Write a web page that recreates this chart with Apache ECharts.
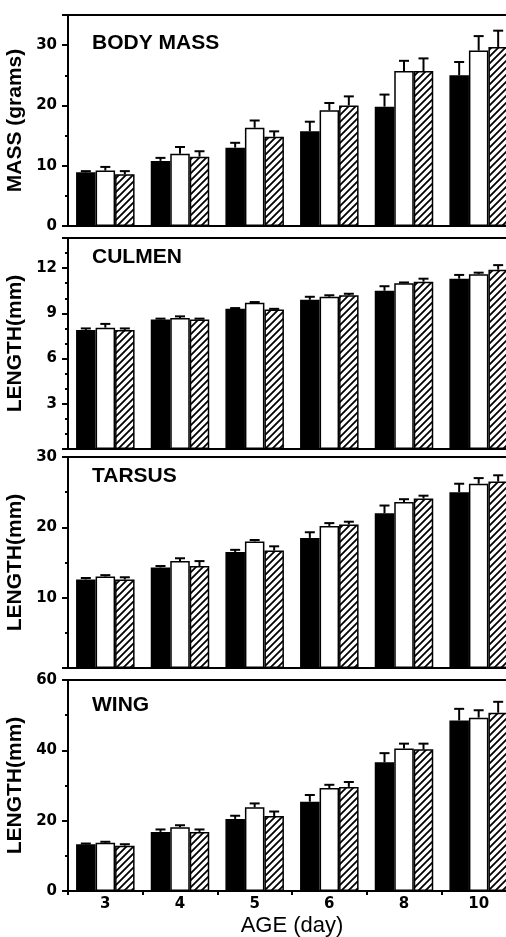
<!DOCTYPE html>
<html>
<head>
<meta charset="utf-8">
<script src="https://cdn.jsdelivr.net/npm/echarts@6/dist/echarts.min.js"></script>
<style>
html,body{margin:0;padding:0;background:#fff;}
#chart{width:506px;height:937px;}
</style>
</head>
<body>
<div id="chart"></div>
<script>
// ---- data ----
const categories = ['3', '4', '5', '6', '8', '10'];
const panelTitles = ['BODY MASS', 'CULMEN', 'TARSUS', 'WING'];
const yNames = ['MASS (grams)', 'LENGTH(mm)', 'LENGTH(mm)', 'LENGTH(mm)'];
const xName = 'AGE (day)';

// Body mass (grams)
const massBlack = [8.9, 10.8, 13.0, 15.7, 19.8, 25.0];
const massBlackErr = [0.2, 0.5, 0.8, 1.6, 2.0, 2.2];
const massWhite = [9.2, 12.0, 16.3, 19.2, 25.7, 29.1];
const massWhiteErr = [0.6, 1.1, 1.2, 1.2, 1.7, 2.4];
const massHatch = [8.6, 11.5, 14.8, 20.0, 25.7, 29.7];
const massHatchErr = [0.5, 0.9, 0.9, 1.5, 2.1, 2.7];

// Culmen length (mm)
const culBlack = [7.9, 8.6, 9.3, 9.9, 10.5, 11.3];
const culBlackErr = [0.1, 0.05, 0.05, 0.2, 0.3, 0.25];
const culWhite = [8.05, 8.7, 9.7, 10.1, 11.0, 11.6];
const culWhiteErr = [0.25, 0.1, 0.05, 0.1, 0.05, 0.1];
const culHatch = [7.9, 8.6, 9.25, 10.2, 11.1, 11.9];
const culHatchErr = [0.1, 0.05, 0.05, 0.1, 0.2, 0.3];

// Tarsus length (mm)
const tarBlack = [12.6, 14.3, 16.5, 18.5, 22.0, 25.0];
const tarBlackErr = [0.2, 0.2, 0.3, 0.8, 1.1, 1.2];
const tarWhite = [13.0, 15.2, 18.0, 20.2, 23.6, 26.2];
const tarWhiteErr = [0.2, 0.4, 0.2, 0.4, 0.4, 0.8];
const tarHatch = [12.6, 14.5, 16.7, 20.4, 24.1, 26.5];
const tarHatchErr = [0.3, 0.7, 0.6, 0.4, 0.4, 0.9];

// Wing length (mm)
const wingBlack = [13.3, 16.8, 20.5, 25.4, 36.6, 48.5];
const wingBlackErr = [0.2, 0.7, 0.9, 1.9, 2.6, 3.3];
const wingWhite = [13.7, 18.1, 23.8, 29.3, 40.5, 49.3];
const wingWhiteErr = [0.3, 0.6, 1.1, 0.9, 1.4, 2.1];
const wingHatch = [12.9, 16.8, 21.3, 29.6, 40.3, 50.7];
const wingHatchErr = [0.4, 0.7, 1.3, 1.4, 1.6, 3.1];

const yMax = [35, 14, 30, 60];
const yInterval = [10, 3, 10, 20];
const yMinorSplit = [2, 3, 2, 2];

// ---- styling ----
const panelTops = [15, 238, 457, 680];
const panelH = 211;
const BAR_W = 19.5;
const CAP_W = 10;
const titleTops = [33, 247, 466, 695];

function makeHatch() {
  const s = 7;
  const c = document.createElement('canvas');
  c.width = s; c.height = s;
  const g = c.getContext('2d');
  g.fillStyle = '#fff';
  g.fillRect(0, 0, s, s);
  g.strokeStyle = '#000';
  g.lineWidth = 1.8;
  g.beginPath();
  g.moveTo(-1, s + 1); g.lineTo(s + 1, -1);
  g.moveTo(-1, 1); g.lineTo(1, -1);
  g.moveTo(s - 1, s + 1); g.lineTo(s + 1, s - 1);
  g.stroke();
  return c;
}
const hatchFill = { image: makeHatch(), repeat: 'repeat' };
const fills = ['#000', '#fff', hatchFill];

const panels = [
  [[massBlack, massBlackErr], [massWhite, massWhiteErr], [massHatch, massHatchErr]],
  [[culBlack, culBlackErr], [culWhite, culWhiteErr], [culHatch, culHatchErr]],
  [[tarBlack, tarBlackErr], [tarWhite, tarWhiteErr], [tarHatch, tarHatchErr]],
  [[wingBlack, wingBlackErr], [wingWhite, wingWhiteErr], [wingHatch, wingHatchErr]]
];

const grid = panelTops.map(t => ({
  left: 68, width: 448, top: t, height: panelH,
  containLabel: false, outerBoundsMode: 'none',
  show: true, borderColor: '#000', borderWidth: 2, backgroundColor: 'transparent'
}));

const xAxis = panelTops.map((t, i) => ({
  type: 'category', gridIndex: i, data: categories,
  axisLine: { lineStyle: { color: '#000', width: 2 } },
  axisTick: { show: i === 3, length: 4, lineStyle: { color: '#000', width: 2 } },
  axisLabel: {
    show: i === 3, color: '#000', fontFamily: 'DejaVu Sans', fontWeight: 'bold',
    fontSize: 15, margin: 6
  },
  name: i === 3 ? xName : '',
  nameLocation: 'middle', nameGap: 24,
  nameTextStyle: { color: '#000', fontFamily: 'Liberation Sans', fontSize: 22 }
}));

const yAxis = panelTops.map((t, i) => ({
  type: 'value', gridIndex: i, min: 0, max: yMax[i], interval: yInterval[i],
  axisLine: { show: true, lineStyle: { color: '#000', width: 2 } },
  axisTick: { show: true, length: 6, lineStyle: { color: '#000', width: 2 } },
  minorTick: { show: true, splitNumber: yMinorSplit[i], length: 3, lineStyle: { color: '#000', width: 2 } },
  splitLine: { show: false },
  axisLabel: {
    color: '#000', fontFamily: 'DejaVu Sans', fontWeight: 'bold', fontSize: 15, margin: 11,
    showMinLabel: (i === 0 || i === 3), showMaxLabel: (i === 2 || i === 3)
  },
  name: yNames[i], nameLocation: 'middle', nameGap: 35,
  nameTextStyle: { color: '#000', fontFamily: 'Liberation Sans', fontWeight: 'bold', fontSize: 21 }
}));

const series = [];
panels.forEach((groups, p) => {
  groups.forEach(([vals, errs], k) => {
    series.push({
      type: 'bar', xAxisIndex: p, yAxisIndex: p, data: vals,
      barWidth: BAR_W, barGap: '0%',
      itemStyle: { color: fills[k], borderColor: '#000', borderWidth: 1.5 },
      emphasis: { disabled: true }, animation: false
    });
  });
  groups.forEach(([vals, errs], k) => {
    series.push({
      type: 'custom', xAxisIndex: p, yAxisIndex: p, z: 5,
      data: vals.map((v, idx) => [idx, v, errs[idx]]),
      encode: { x: 0, y: 1 },
      animation: false,
      renderItem: (params, api) => {
        const xi = api.value(0), v = api.value(1), e = api.value(2);
        const p0 = api.coord([xi, v]);
        const p1 = api.coord([xi, v + e]);
        const cx = p0[0] + (k - 1) * BAR_W;
        return {
          type: 'group', children: [
            { type: 'line', shape: { x1: cx, y1: p0[1], x2: cx, y2: p1[1] }, style: { stroke: '#000', lineWidth: 2 } },
            { type: 'line', shape: { x1: cx - CAP_W / 2, y1: p1[1], x2: cx + CAP_W / 2, y2: p1[1] }, style: { stroke: '#000', lineWidth: 2 } }
          ]
        };
      }
    });
  });
});

const graphic = panelTitles.map((txt, i) => ({
  type: 'text', left: 92, top: titleTops[i],
  style: { text: txt, fill: '#000', font: 'bold 21px "Liberation Sans"' }
}));

const chart = echarts.init(document.getElementById('chart'), null, { renderer: 'canvas' });
chart.setOption({
  backgroundColor: '#fff',
  animation: false,
  grid, xAxis, yAxis, series, graphic
});
</script>
</body>
</html>
